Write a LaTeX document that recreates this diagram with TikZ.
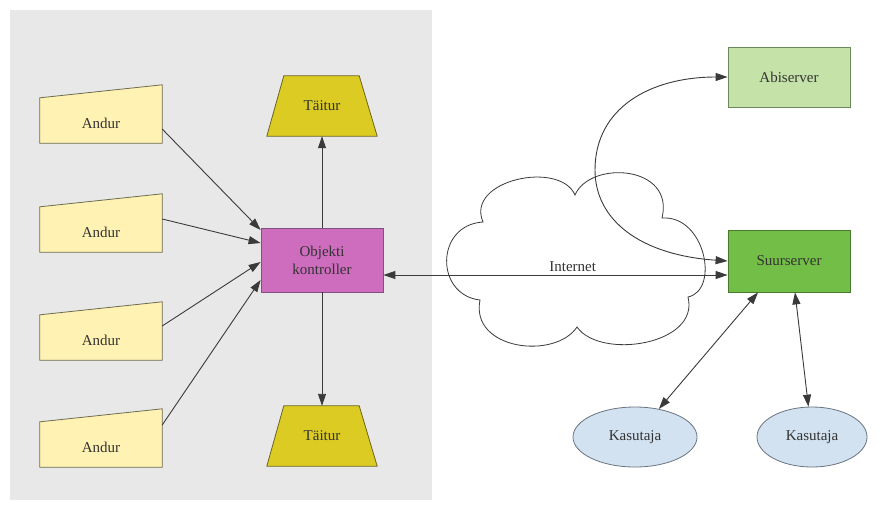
\documentclass[tikz,border=0pt]{standalone}
\usepackage{fontspec}
\setmainfont{Liberation Serif}
\usetikzlibrary{shapes.geometric,arrows.meta,calc}
\definecolor{bggray}{HTML}{E8E8E8}
\definecolor{andurfill}{HTML}{FFF2B3}
\definecolor{andurline}{HTML}{6E6C50}
\definecolor{taiturfill}{HTML}{DCCB22}
\definecolor{taiturline}{HTML}{6B6420}
\definecolor{kontrfill}{HTML}{CE6CBE}
\definecolor{kontrline}{HTML}{805080}
\definecolor{abifill}{HTML}{C5E3A8}
\definecolor{abiline}{HTML}{6A8A5A}
\definecolor{suurfill}{HTML}{72BE46}
\definecolor{suurline}{HTML}{4A7A30}
\definecolor{kasfill}{HTML}{D3E2F0}
\definecolor{kasline}{HTML}{6A7480}
\definecolor{edgecol}{HTML}{3A3A3A}
\definecolor{txtcol}{HTML}{333333}
\pgfdeclarelayer{back}
\pgfdeclarelayer{shapelayer}
\pgfsetlayers{back,shapelayer,main}
\begin{document}
\begin{tikzpicture}[x=1pt,y=-1pt,
  font=\fontsize{15}{18}\selectfont,
  every node/.style={text=txtcol},
  andurnode/.style={rectangle,minimum width=122pt,minimum height=40pt,inner sep=0pt},
  taiturnode/.style={rectangle,minimum width=110pt,minimum height=60pt,inner sep=0pt},
  boxnode/.style={rectangle,draw,line width=0.8pt,inner sep=0pt,align=center},
  kasnode/.style={ellipse,draw=kasline,fill=kasfill,line width=0.8pt,minimum height=60pt,inner sep=0pt},
  link/.style={draw=edgecol,line width=0.9pt},
  tip/.style={-{Triangle[length=12pt,width=8pt]}},
  bothtip/.style={{Triangle[length=12pt,width=8pt]}-{Triangle[length=12pt,width=8pt]}},
  andurshape/.style={fill=andurfill,draw=andurline,line width=0.8pt},
  taiturshape/.style={fill=taiturfill,draw=taiturline,line width=0.8pt},
  cloudshape/.style={fill=white,draw=edgecol,line width=0.8pt}]
\useasboundingbox (0,0) rectangle (883,517);
\begin{pgfonlayer}{back}
\fill[white] (0,0) rectangle (883,517);
\fill[bggray] (10,10) rectangle (432,500);
\end{pgfonlayer}

% sensors
\node[andurnode] (a1) at (101,123) {Andur};
\node[andurnode] (a2) at (101,232) {Andur};
\node[andurnode] (a3) at (101,340) {Andur};
\node[andurnode] (a4) at (101,447) {Andur};
\begin{pgfonlayer}{shapelayer}
\foreach \n in {a1,a2,a3,a4}{
  \draw[andurshape] (\n.south west) -- (\n.south east) -- ([yshift=18pt]\n.north east) -- ([yshift=5pt]\n.north west) -- cycle;
}
\end{pgfonlayer}

% actuators
\node[taiturnode] (t1) at (322,106) {Täitur};
\node[taiturnode] (t2) at (322,436) {Täitur};
\begin{pgfonlayer}{shapelayer}
\foreach \n in {t1,t2}{
  \draw[taiturshape] (\n.south west) -- (\n.south east) -- ([xshift=-18pt]\n.north east) -- ([xshift=17pt]\n.north west) -- cycle;
}
\end{pgfonlayer}

% controller
\node[boxnode,draw=kontrline,fill=kontrfill,minimum width=122pt,minimum height=64pt] (k) at (322,260) {Objekti\\kontroller};

% cloud
\node[rectangle,minimum width=252pt,minimum height=170pt,inner sep=0pt] (net) at (574,260) {};
\begin{pgfonlayer}{shapelayer}
\draw[cloudshape] (483,222)
  .. controls (465,180) and (560,160) .. (575,195)
  .. controls (590,160) and (675,165) .. (662,218)
  .. controls (705,215) and (720,290) .. (688,297)
  .. controls (700,345) and (600,360) .. (577,327)
  .. controls (555,360) and (470,350) .. (480,300)
  .. controls (435,295) and (435,225) .. cycle;
\end{pgfonlayer}

% servers
\node[boxnode,draw=abiline,fill=abifill,minimum width=122pt,minimum height=60pt] (abi) at (789,77) {Abiserver};
\node[boxnode,draw=suurline,fill=suurfill,minimum width=122pt,minimum height=62pt] (suur) at (789,261) {Suurserver};

% users
\node[kasnode,minimum width=124pt] (u1) at (635,437) {Kasutaja};
\node[kasnode,minimum width=110pt] (u2) at (812,437) {Kasutaja};

% edges
\draw[link,tip] ([yshift=-6pt]a1.east) -- ([yshift=30pt]k.west);
\draw[link,tip] ([yshift=13pt]a2.east) -- ([yshift=17pt]k.west);
\draw[link,tip] ([yshift=14pt]a3.east) -- ([yshift=-2pt]k.west);
\draw[link,tip] ([yshift=22pt]a4.east) -- ([yshift=-20pt]k.west);
\draw[link,tip] (k.north) -- (t1.south);
\draw[link,tip] (k.south) -- (t2.north);
\draw[link,bothtip] ([yshift=-15pt]k.east) -- node[pos=0.55,above=2pt,inner sep=1pt] (netlabel) {Internet} ([yshift=-14pt]suur.west);
\draw[link,bothtip] (suur.west) .. controls (640,255) and (595,220) .. (595,170) .. controls (595,108) and (650,77) .. (abi.west);
\draw[link,bothtip] ([xshift=-31pt]suur.south) -- (u1);
\draw[link,bothtip] ([xshift=6pt]suur.south) -- (u2);
\end{tikzpicture}
\end{document}
